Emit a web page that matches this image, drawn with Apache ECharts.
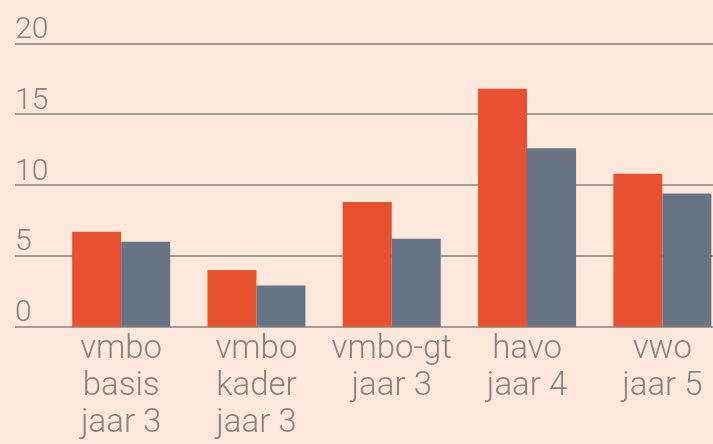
<!DOCTYPE html>
<html>
<head>
<meta charset="utf-8">
<script src="https://cdn.jsdelivr.net/npm/echarts@6/dist/echarts.min.js"></script>
<style>
  html, body { margin: 0; padding: 0; background: #fde9dc; overflow: hidden; }
  /* 图比窗口略宽，最右边的柱子被截掉一点 */
  #main { width: 730px; height: 444px; }
</style>
</head>
<body>
<div id="main"></div>
<script>
// 数据
var categories = ['vmbo\nbasis\njaar 3', 'vmbo\nkader\njaar 3', 'vmbo-gt\njaar 3', 'havo\njaar 4', 'vwo\njaar 5'];
var seriesA = [6.7, 4.0, 8.8, 16.8, 10.8];
var seriesB = [6.0, 2.9, 6.2, 12.6, 9.4];
var yTicks = [0, 5, 10, 15, 20];

var textColor = '#8c817d';
var lineColor = '#a89a94';
var fontFamily = 'Roboto, sans-serif';

var myChart = echarts.init(document.getElementById('main'));

var option = {
    backgroundColor: '#fde9dc',
    animation: false,
    grid: [
        // 网格线和y轴标签
        {left: 15, right: 0, top: 43.3, height: 283.4, containLabel: false},
        // 柱子
        {left: 53.5, width: 676.5, top: 43.3, height: 283.4, containLabel: false}
    ],
    xAxis: [
        {gridIndex: 0, type: 'value', min: 0, max: 1, show: false},
        {
            gridIndex: 1,
            type: 'category',
            data: categories,
            axisLine: {show: false},
            axisTick: {show: false},
            axisLabel: {
                color: textColor,
                fontFamily: fontFamily,
                fontWeight: 300,
                fontSize: 33,
                lineHeight: 37,
                margin: 5,
                interval: 0
            }
        }
    ],
    yAxis: [
        {
            gridIndex: 0,
            type: 'value',
            min: yTicks[0],
            max: yTicks[yTicks.length - 1],
            interval: 5,
            axisLine: {show: false},
            axisTick: {show: false},
            splitLine: {lineStyle: {color: lineColor, width: 2}},
            axisLabel: {
                inside: true,
                margin: 0,
                align: 'left',
                verticalAlign: 'bottom',
                lineHeight: 26,
                color: textColor,
                fontFamily: fontFamily,
                fontWeight: 300,
                fontSize: 30
            }
        },
        {
            gridIndex: 1,
            type: 'value',
            min: 0,
            max: 20,
            show: false
        }
    ],
    series: [
        {
            type: 'bar',
            xAxisIndex: 1,
            yAxisIndex: 1,
            data: seriesA,
            barWidth: 49,
            barGap: '0%',
            itemStyle: {color: '#e8512f'}
        },
        {
            type: 'bar',
            xAxisIndex: 1,
            yAxisIndex: 1,
            data: seriesB,
            barWidth: 49,
            barGap: '0%',
            itemStyle: {color: '#687384'}
        }
    ]
};
myChart.setOption(option);
</script>
</body>
</html>
